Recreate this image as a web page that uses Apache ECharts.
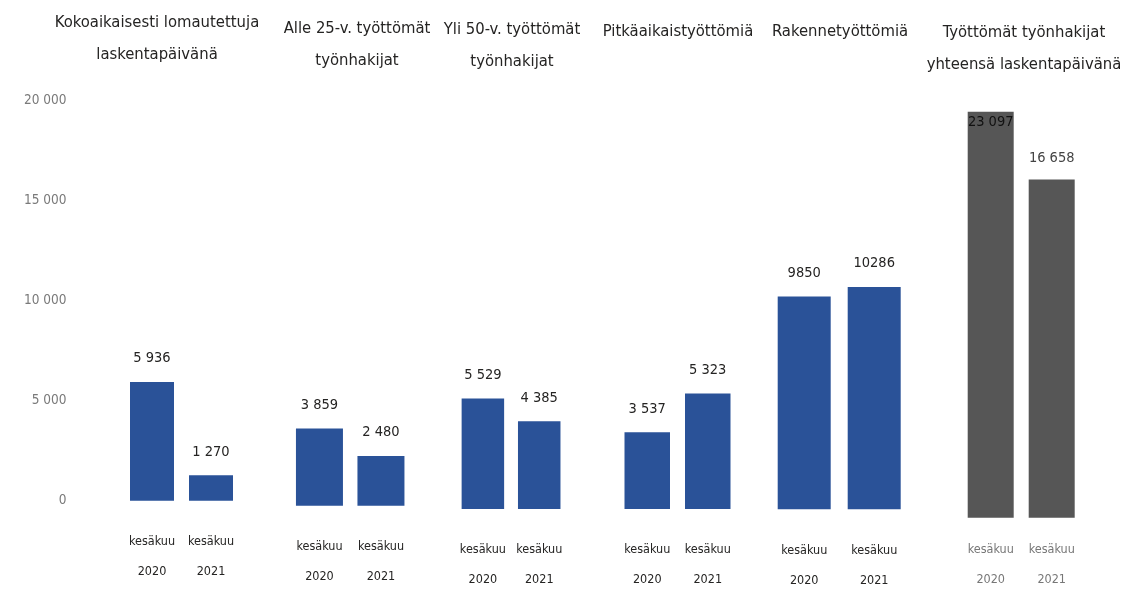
<!DOCTYPE html>
<html>
<head>
<meta charset="utf-8">
<script src="https://cdn.jsdelivr.net/npm/echarts@6/dist/echarts.min.js"></script>
<style>
  html, body { margin: 0; padding: 0; background: #fff; }
  #chart { width: 1122px; height: 598px; }
</style>
</head>
<body>
<div id="chart"></div>
<script>
// data
var groupTitles = [
  'Kokoaikaisesti lomautettuja\nlaskentapäivänä',
  'Alle 25-v. työttömät\ntyönhakijat',
  'Yli 50-v. työttömät\ntyönhakijat',
  'Pitkäaikaistyöttömiä',
  'Rakennetyöttömiä',
  'Työttömät työnhakijat\nyhteensä laskentapäivänä'
];
var categories = ['kesäkuu\n2020', 'kesäkuu\n2021'];
var lomautetut = [5936, 1270];
var alle25 = [3859, 2480];
var yli50 = [5529, 4385];
var pitkaaikais = [3537, 5323];
var rakenne = [9850, 10286];
var yhteensa = [23097, 16658];
var groupValues = [lomautetut, alle25, yli50, pitkaaikais, rakenne, yhteensa];
var yTicks = [0, 5000, 10000, 15000, 20000];
var spacedNumbers = [true, true, true, true, false, true];

// layout (pixels, per group)
var layout = [
  { left: 122.5, width: 118, top: 100.7, height: 400, bar: 44, tx: 157, ty: 7 },
  { left: 288.7, width: 123, top: 105.7, height: 400, bar: 47, tx: 357, ty: 13 },
  { left: 454.7, width: 112.7, top: 109, height: 400, bar: 42.5, tx: 512, ty: 14 },
  { left: 617, width: 121, top: 75, height: 434, bar: 45.5, tx: 678, ty: 16 },
  { left: 769.2, width: 140, top: 77.3, height: 432, bar: 53, tx: 840, ty: 16 },
  { left: 960.2, width: 122, top: 111.7, height: 406, bar: 46, tx: 1024, ty: 17 }
];

var FONT = "'DejaVu Sans Condensed', 'Liberation Sans', sans-serif";
var BLUE = '#2a5298';
var GREY = '#565656';

function spaced(v) {
  return String(v).replace(/\B(?=(\d{3})+(?!\d))/g, ' ');
}

var chart = echarts.init(document.getElementById('chart'));

var titles = [], grids = [], xAxes = [], yAxes = [], series = [];
layout.forEach(function (l, i) {
  var last = i === 5;
  titles.push({
    text: groupTitles[i],
    left: l.tx,
    top: l.ty,
    textAlign: 'center',
    padding: 0,
    textStyle: { fontFamily: FONT, fontSize: 16.5, fontWeight: 'normal', color: '#252423', lineHeight: 32 }
  });
  grids.push({ left: l.left, width: l.width, top: l.top, height: l.height, containLabel: false });
  xAxes.push({
    type: 'category',
    gridIndex: i,
    data: categories,
    axisLine: { show: false },
    axisTick: { show: false },
    axisLabel: {
      interval: 0,
      margin: last ? 17 : 26,
      fontFamily: FONT,
      fontSize: 12.5,
      lineHeight: 30,
      color: last ? '#777' : '#252423'
    }
  });
  yAxes.push({
    type: 'value',
    gridIndex: i,
    min: yTicks[0],
    max: yTicks[yTicks.length - 1],
    interval: 5000,
    splitLine: { show: false },
    axisLine: { show: false },
    axisTick: { show: false },
    axisLabel: {
      show: i === 0,
      margin: 56,
      fontFamily: FONT,
      fontSize: 13.5,
      color: '#7a7a7a',
      formatter: function (v) { return spaced(v); }
    }
  });
  series.push({
    type: 'bar',
    xAxisIndex: i,
    yAxisIndex: i,
    barWidth: l.bar,
    clip: true,
    itemStyle: { color: last ? GREY : BLUE },
    label: {
      show: true,
      position: 'top',
      distance: last ? 14 : 16,
      fontFamily: FONT,
      fontSize: 14.5,
      color: last ? '#444' : '#252423',
      formatter: function (p) { return spacedNumbers[i] ? spaced(p.value) : String(p.value); }
    },
    data: groupValues[i].map(function (v) {
      if (v > yTicks[yTicks.length - 1]) {
        return { value: v, label: { position: 'insideTop', distance: 3, color: '#111' } };
      }
      return v;
    })
  });
});

chart.setOption({
  backgroundColor: '#ffffff',
  animation: false,
  title: titles,
  grid: grids,
  xAxis: xAxes,
  yAxis: yAxes,
  series: series
});
</script>
</body>
</html>
